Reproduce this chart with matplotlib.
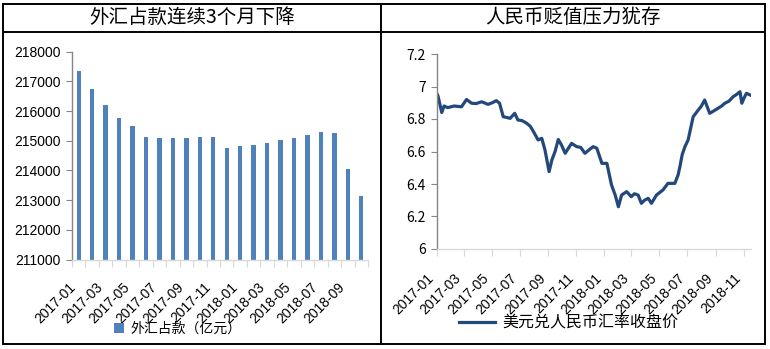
import matplotlib
matplotlib.use("Agg")
import matplotlib.pyplot as plt
import numpy as np
import pandas as pd
from matplotlib.patches import Rectangle
from matplotlib.lines import Line2D
from matplotlib.ticker import FormatStrFormatter

plt.rcParams["font.family"] = ["Liberation Sans", "Noto Sans CJK SC", "DejaVu Sans"]
CJK = ["Noto Sans CJK SC", "DejaVu Sans"]

# --- data -------------------------------------------------------------
months = ["2017-01", "2017-02", "2017-03", "2017-04", "2017-05", "2017-06",
          "2017-07", "2017-08", "2017-09", "2017-10", "2017-11", "2017-12",
          "2018-01", "2018-02", "2018-03", "2018-04", "2018-05", "2018-06",
          "2018-07", "2018-08", "2018-09", "2018-10"]
fx_funds = [217350, 216750, 216200, 215770, 215500, 215130,
            215100, 215100, 215100, 215130, 215130, 214760,
            214840, 214860, 214930, 215030, 215100, 215200,
            215300, 215270, 214050, 213150]

rate_dates = ["2017-01-01", "2017-01-04", "2017-01-12", "2017-01-17", "2017-01-25",
              "2017-02-08", "2017-02-24", "2017-03-07", "2017-03-18", "2017-03-28",
              "2017-04-09", "2017-04-23", "2017-05-02", "2017-05-11", "2017-05-18",
              "2017-05-26", "2017-06-02", "2017-06-10", "2017-06-20", "2017-06-27",
              "2017-07-06", "2017-07-16", "2017-07-24", "2017-07-31", "2017-08-10",
              "2017-08-18", "2017-08-25", "2017-09-03", "2017-09-09", "2017-09-16",
              "2017-09-23", "2017-09-30", "2017-10-08", "2017-10-15", "2017-10-22",
              "2017-11-02", "2017-11-11", "2017-11-20", "2017-11-29", "2017-12-08",
              "2017-12-16", "2017-12-27", "2018-01-07", "2018-01-10", "2018-01-17",
              "2018-01-25", "2018-02-01", "2018-02-08", "2018-02-19", "2018-03-01",
              "2018-03-08", "2018-03-16", "2018-03-23", "2018-03-30", "2018-04-07",
              "2018-04-14", "2018-04-25", "2018-05-09", "2018-05-20", "2018-06-04",
              "2018-06-11", "2018-06-15", "2018-06-20", "2018-06-26", "2018-07-03",
              "2018-07-09", "2018-07-14", "2018-07-25", "2018-08-01", "2018-08-08",
              "2018-08-19", "2018-08-28", "2018-09-06", "2018-09-14", "2018-09-21",
              "2018-09-30", "2018-10-09", "2018-10-16", "2018-10-24", "2018-10-28",
              "2018-11-02", "2018-11-07", "2018-11-15"]
rate_values = [6.958, 6.940, 6.840, 6.880, 6.870,
               6.880, 6.875, 6.920, 6.897, 6.895,
               6.906, 6.890, 6.900, 6.913, 6.897,
               6.814, 6.810, 6.804, 6.835, 6.794,
               6.790, 6.774, 6.755, 6.722, 6.671,
               6.681, 6.609, 6.476, 6.548, 6.600,
               6.674, 6.640, 6.589, 6.620, 6.650,
               6.630, 6.625, 6.589, 6.610, 6.630,
               6.620, 6.527, 6.527, 6.486, 6.394,
               6.332, 6.260, 6.332, 6.353, 6.322,
               6.340, 6.332, 6.281, 6.300, 6.312,
               6.281, 6.332, 6.363, 6.404, 6.404,
               6.455, 6.506, 6.580, 6.630, 6.671,
               6.750, 6.814, 6.855, 6.880, 6.917,
               6.835, 6.850, 6.866, 6.880, 6.897,
               6.910, 6.937, 6.950, 6.968, 6.897,
               6.930, 6.958, 6.948]

left_title = "外汇占款连续3个月下降"
right_title = "人民币贬值压力犹存"
bar_label = "外汇占款（亿元）"
line_label = "美元兑人民币汇率收盘价"

BAR_COLOR = "#4F81BD"
LINE_COLOR = "#23497C"
AXIS_GRAY = "#868686"
LIGHT_GRAY = "#D9D9D9"

fig = plt.figure(figsize=(7.7, 3.49), dpi=100)

# --- panel frames -----------------------------------------------------
W, H = 770.0, 349.0
x0, x1, xm = 3 / W, 765 / W, 381 / W
y0, y1, ysep = 1 - 344 / H, 1 - 4 / H, 1 - 31.5 / H
fig.add_artist(Rectangle((x0, y0), x1 - x0, y1 - y0, transform=fig.transFigure,
                         fill=False, edgecolor="black", linewidth=1.4))
fig.add_artist(Line2D([x0, x1], [ysep, ysep], transform=fig.transFigure,
                      color="black", linewidth=1.4))
fig.add_artist(Line2D([xm, xm], [y0, y1], transform=fig.transFigure,
                      color="black", linewidth=1.4))

ty = (ysep + y1) / 2
fig.text((x0 + xm) / 2, ty, left_title, ha="center", va="center",
         fontsize=14, family=CJK)
fig.text((xm + x1) / 2, ty, right_title, ha="center", va="center",
         fontsize=14, family=CJK)


def style_axes(ax):
    for s in ("top", "right"):
        ax.spines[s].set_visible(False)
    ax.spines["left"].set_color(AXIS_GRAY)
    ax.spines["bottom"].set_color(LIGHT_GRAY)
    ax.spines["left"].set_linewidth(1.0)
    ax.spines["bottom"].set_linewidth(1.0)
    ax.tick_params(axis="y", length=4, color=AXIS_GRAY, labelsize=10, pad=4)


# --- left: FX funds bars ---------------------------------------------
ax1 = fig.add_axes([72 / W, 1 - 259.5 / H, 296 / W, 207.8 / H])
x = np.arange(len(months))
ax1.bar(x, fx_funds, width=0.33, color=BAR_COLOR, label=bar_label, zorder=2)
ax1.set_ylim(211000, 218000)
ax1.set_yticks(np.arange(211000, 218001, 1000))
ax1.set_xlim(-0.5, len(months) - 0.5)
ax1.set_xticks(np.arange(-0.5, len(months)), minor=False)
ax1.set_xticks(x[::2], minor=True)
ax1.set_xticklabels(months[::2], minor=True, rotation=45, ha="right")
ax1.tick_params(axis="x", which="major", length=5, color=LIGHT_GRAY,
                labelbottom=False)
ax1.tick_params(axis="x", which="minor", length=0, pad=15, labelsize=10)
style_axes(ax1)
leg1 = ax1.legend(loc="center", bbox_to_anchor=(178 / W, 1 - 329 / H),
                  bbox_transform=fig.transFigure, frameon=False,
                  prop={"family": CJK, "size": 10},
                  handlelength=0.7, handleheight=0.7, handletextpad=0.5)

# --- right: USD/CNY line ---------------------------------------------
ax2 = fig.add_axes([436.7 / W, 1 - 249 / H, 314.3 / W, 195 / H])
dates = pd.to_datetime(rate_dates)
ax2.plot(dates, rate_values, color=LINE_COLOR, linewidth=2.3, label=line_label)
ax2.set_xlim(pd.Timestamp("2017-01-01"), pd.Timestamp("2018-11-17"))
ax2.set_ylim(6, 7.2)
ax2.set_yticks(np.arange(6, 7.21, 0.2))
ax2.yaxis.set_major_formatter(FormatStrFormatter("%g"))
for lab in ax2.get_yticklabels():
    lab.set_family(CJK)
ticks = pd.date_range("2017-01-01", "2018-11-01", freq="2MS")
ax2.set_xticks(ticks)
ax2.set_xticklabels([t.strftime("%Y-%m") for t in ticks], rotation=45, ha="right")
ax2.tick_params(axis="x", length=5, color=LIGHT_GRAY, pad=11, labelsize=10)
style_axes(ax2)
for lab in ax2.get_yticklabels():
    lab.set_family(CJK)
leg2 = ax2.legend(loc="center", bbox_to_anchor=(569 / W, 1 - 323 / H),
                  bbox_transform=fig.transFigure, frameon=False,
                  prop={"family": CJK, "size": 11.5},
                  handlelength=2.2, handletextpad=0.5)

fig.savefig("out.png", dpi=100)
